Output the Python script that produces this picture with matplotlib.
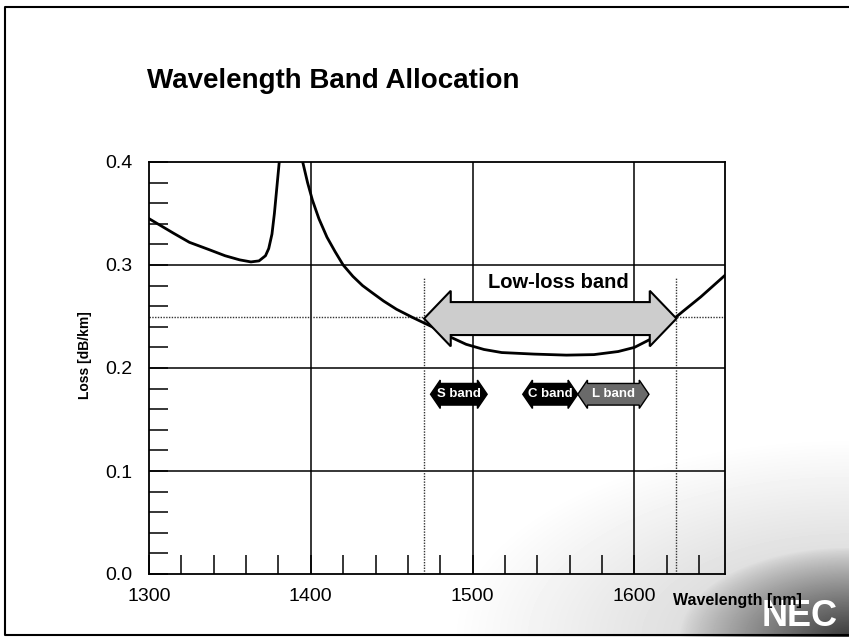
import numpy as np
import matplotlib.pyplot as plt
from matplotlib.patches import Polygon
from matplotlib.ticker import MultipleLocator, FormatStrFormatter

plt.rcParams['font.family'] = ['Liberation Sans', 'DejaVu Sans']

# fiber loss curve (nm, dB/km); peak above 0.4 is clipped
wavelength = [1300, 1315, 1325, 1337, 1347, 1356, 1363, 1368, 1372, 1374, 1376,
              1377.5, 1379, 1380.5, 1383, 1388, 1392, 1395, 1398, 1401, 1405,
              1410, 1415, 1420, 1426, 1432, 1438, 1445, 1453, 1463, 1475, 1485,
              1496, 1507, 1518, 1538, 1558, 1575, 1590, 1600, 1610, 1620, 1630,
              1641, 1656]
loss = [0.345, 0.331, 0.322, 0.315, 0.309, 0.305, 0.303, 0.304, 0.309, 0.316, 0.330,
        0.350, 0.375, 0.400, 0.440, 0.470, 0.440, 0.400, 0.380, 0.363, 0.345,
        0.327, 0.313, 0.300, 0.289, 0.280, 0.273, 0.265, 0.257, 0.249, 0.240, 0.231,
        0.223, 0.218, 0.215, 0.2135, 0.2125, 0.213, 0.216, 0.220, 0.228, 0.242, 0.255,
        0.269, 0.290]

# low-loss band (nm) and its level
lowloss_range = [1470, 1626]
lowloss_level = 0.248

# small band arrows
band_names = ['S band', 'C band', 'L band']
band_start = [1474, 1531, 1565]
band_end = [1509, 1565, 1609]
band_fill = ['black', 'black', '#6a6a6a']
band_level = 0.1745


def block_darrow(x0, x1, yc, body, head, head_len):
    pts = [(x0, yc), (x0 + head_len, yc + head), (x0 + head_len, yc + body),
           (x1 - head_len, yc + body), (x1 - head_len, yc + head), (x1, yc),
           (x1 - head_len, yc - head), (x1 - head_len, yc - body),
           (x0 + head_len, yc - body), (x0 + head_len, yc - head)]
    return pts


fig = plt.figure(figsize=(8.49, 6.37), dpi=100)

# scanned background: light haze plus dark smudge at bottom right corner
bg = fig.add_axes([0, 0, 1, 1], zorder=-1)
W, H = 849, 637
xx, yy = np.meshgrid(np.arange(W), np.arange(H))
r_wide = np.sqrt(((W - xx) / 400.0) ** 2 + ((H - yy) / 200.0) ** 2)
r_core = np.sqrt(((W - xx) / 170.0) ** 2 + ((H - yy) / 90.0) ** 2)
dark = np.clip(1 - r_wide, 0, 1) * 0.22 + np.clip(1 - r_core, 0, 1) ** 0.8 * 0.55
bg.imshow(1 - dark, cmap='gray', vmin=0, vmax=1, extent=[0, W, H, 0],
          origin='upper', aspect='auto', interpolation='bilinear')
bg.set_xlim(0, W)
bg.set_ylim(H, 0)
bg.axis('off')
# outer slide frame (open on the right)
bg.plot([W + 5, 5, 5, W + 5], [7, 7, 635, 635], color='black', lw=1.5, clip_on=False)
bg.text(800, 616, 'NEC', color='white', fontsize=26, fontweight='bold',
        ha='center', va='center')

ax = fig.add_axes([149 / W, 63 / H, 576 / W, 412 / H], zorder=1)
ax.patch.set_alpha(0)
ax.set_xlim(1300, 1656)
ax.set_ylim(0, 0.4)

for x in [1400, 1500, 1600]:
    ax.axvline(x, color='black', lw=1.1, zorder=1)
for y in [0.1, 0.2, 0.3]:
    ax.axhline(y, color='black', lw=1.1, zorder=1)
ax.vlines(lowloss_range, 0, 0.288, color='#333333', lw=1.0, linestyles=(0, (1, 1)), zorder=1)
ax.axhline(0.25, color='#333333', lw=1.0, linestyle=(0, (1, 1)), zorder=1)

ax.plot(wavelength, loss, color='black', lw=2.0, zorder=3)

ax.add_patch(Polygon(block_darrow(lowloss_range[0], lowloss_range[1], lowloss_level,
                                  0.016, 0.027, 16.5),
                     closed=True, facecolor='#cdcdcd', edgecolor='black', lw=1.5, zorder=4))
ax.text(1553, 0.283, 'Low-loss band', fontsize=14.5, fontweight='bold',
        ha='center', va='center', zorder=5)

for name, x0, x1, fc in zip(band_names, band_start, band_end, band_fill):
    ax.add_patch(Polygon(block_darrow(x0, x1, band_level, 0.0105, 0.0138, 6),
                         closed=True, facecolor=fc, edgecolor='black', lw=1.0, zorder=4))
    ax.text((x0 + x1) / 2, band_level, name, color='white', fontsize=9.5,
            fontweight='bold', ha='center', va='center', zorder=5)

ax.xaxis.set_major_locator(MultipleLocator(100))
ax.xaxis.set_minor_locator(MultipleLocator(20))
ax.yaxis.set_major_locator(MultipleLocator(0.1))
ax.yaxis.set_minor_locator(MultipleLocator(0.02))
ax.yaxis.set_major_formatter(FormatStrFormatter('%.1f'))
ax.tick_params(which='both', direction='in', length=14, width=1.1,
               top=False, right=False, labelsize=14)
ax.tick_params(axis='x', pad=10)
ax.tick_params(axis='y', pad=12)
for s in ax.spines.values():
    s.set_linewidth(1.3)

fig.text(673 / W, 1 - 600 / H, 'Wavelength [nm]', fontsize=11.5, fontweight='bold',
         ha='left', va='center')
fig.text(85 / W, 1 - 355 / H, 'Loss [dB/km]', fontsize=10, fontweight='bold',
         rotation=90, ha='center', va='center')
fig.text(147 / W, 1 - 81 / H, 'Wavelength Band Allocation', fontsize=20,
         fontweight='bold', ha='left', va='center')

fig.savefig('out.png', dpi=100)
